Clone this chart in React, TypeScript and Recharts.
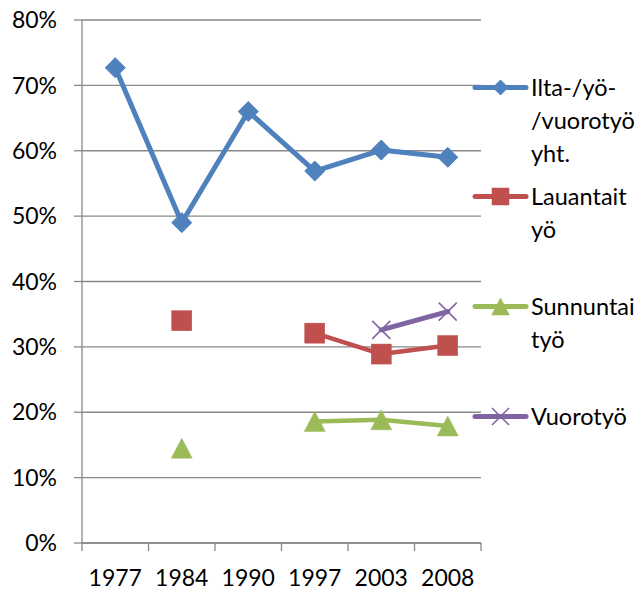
import React from 'react';
import { LineChart, Line, XAxis, YAxis, CartesianGrid, Legend } from 'recharts';

const categories = ['1977', '1984', '1990', '1997', '2003', '2008'];
const iltaYoVuorotyo = [72.7, 49.0, 66.0, 56.9, 60.1, 59.0];
const lauantaityo = [null, 34.0, null, 32.1, 28.9, 30.2];
const sunnuntaityo = [null, 14.5, null, 18.6, 18.85, 17.9];
const vuorotyo = [null, null, null, null, 32.6, 35.4];
const yTicks = [0, 10, 20, 30, 40, 50, 60, 70, 80];

const seriesNames = ['Ilta-/yö-/vuorotyö yht.', 'Lauantaityö', 'Sunnuntaityö', 'Vuorotyö'];
const legendLines = [['Ilta-/yö-', '/vuorotyö', 'yht.'], ['Lauantait', 'yö'], ['Sunnuntai', 'työ'], ['Vuorotyö']];
const colors = ['#4F81BD', '#C0504D', '#9BBB59', '#8064A2'];
const shapes = ['diamond', 'square', 'triangle', 'x'];

const data = categories.map((c, i) => ({
  year: c,
  s0: iltaYoVuorotyo[i],
  s1: lauantaityo[i],
  s2: sunnuntaityo[i],
  s3: vuorotyo[i],
}));

const GRID = '#898989';
const FONT = 'Lato, "Open Sans", sans-serif';
const TICK_FS = 23;
const LEGEND_FS = 23.5;

function Marker({ shape, cx, cy, color, size }: { shape: string; cx: number; cy: number; color: string; size: number }) {
  const h = size / 2;
  if (shape === 'diamond') {
    return <polygon points={`${cx},${cy - h} ${cx + h},${cy} ${cx},${cy + h} ${cx - h},${cy}`} fill={color} stroke={color} strokeWidth={1} />;
  }
  if (shape === 'square') {
    return <rect x={cx - h} y={cy - h} width={size} height={size} fill={color} stroke={color} strokeWidth={0.5} />;
  }
  if (shape === 'triangle') {
    return <polygon points={`${cx},${cy - h} ${cx + h * 1.05},${cy + h} ${cx - h * 1.05},${cy + h}`} fill={color} stroke={color} strokeWidth={0.5} />;
  }
  return (
    <g stroke={color} strokeWidth={1.6}>
      <line x1={cx - h} y1={cy - h} x2={cx + h} y2={cy + h} />
      <line x1={cx - h} y1={cy + h} x2={cx + h} y2={cy - h} />
    </g>
  );
}

function makeDot(idx: number) {
  return (props: any) => {
    const { cx, cy, value, index } = props;
    if (value == null || cy == null || isNaN(cy)) return <g key={`d${idx}-${index}`} />;
    return (
      <g key={`d${idx}-${index}`}>
        <Marker shape={shapes[idx]} cx={cx} cy={cy} color={colors[idx]} size={idx === 3 ? 18 : 20} />
      </g>
    );
  };
}

function CategoryTick(props: any) {
  const { x, y, payload, index, visibleTicksCount, width } = props;
  const half = payload && payload.offset ? payload.offset : width / (visibleTicksCount || categories.length) / 2;
  const isLast = index === (visibleTicksCount || categories.length) - 1;
  return (
    <g>
      <line x1={x - half} y1={y} x2={x - half} y2={y + 8} stroke={GRID} strokeWidth={1.3} />
      {isLast && <line x1={x + half} y1={y} x2={x + half} y2={y + 8} stroke={GRID} strokeWidth={1.3} />}
      <text x={x} y={y + 27} dy="0.71em" textAnchor="middle" fontFamily={FONT} fontSize={TICK_FS} fill="#000">
        {payload.value}
      </text>
    </g>
  );
}

const LINE_H = 33;
const ENTRY_H = 109.7;

function LegendContent() {
  return (
    <div style={{ position: 'relative', width: 171, fontFamily: FONT, fontSize: LEGEND_FS, color: '#000', textAlign: 'left' }}>
      {seriesNames.map((name, i) => (
        <div key={name} style={{ position: 'absolute', left: 0, top: i * ENTRY_H, width: 171, height: ENTRY_H }}>
          <svg width={58} height={LINE_H} style={{ position: 'absolute', left: 0, top: 0 }}>
            <line x1={3} y1={LINE_H / 2} x2={54} y2={LINE_H / 2} stroke={colors[i]} strokeWidth={5} strokeLinecap="round" />
            <Marker shape={shapes[i]} cx={28.5} cy={LINE_H / 2} color={colors[i]} size={i === 0 ? 15 : 17} />
          </svg>
          <div style={{ position: 'absolute', left: 59, top: 0, lineHeight: `${LINE_H}px`, whiteSpace: 'nowrap' }}>
            {legendLines[i].map((l, k) => (
              <div key={k}>{l}</div>
            ))}
          </div>
        </div>
      ))}
    </div>
  );
}

export default function App() {
  const lineProps = [5, 4.5, 4.5, 5];
  return (
    <div style={{ position: 'absolute', left: 0, top: 0, width: 643, height: 590, background: '#fff' }}>
      <LineChart width={643} height={590} data={data} margin={{ top: 20, right: 162, left: 0, bottom: 0 }}>
        <CartesianGrid xAxisId="cat" vertical={false} stroke={GRID} strokeWidth={1.3} />
        <XAxis
          xAxisId="cat"
          dataKey="year"
          scale="band"
          height={47}
          axisLine={{ stroke: GRID, strokeWidth: 1.3 }}
          tickLine={false}
          tickSize={0}
          tickMargin={0}
          interval={0}
          tick={<CategoryTick />}
        />
        <YAxis
          width={82}
          domain={[0, 80]}
          ticks={yTicks}
          interval={0}
          tickFormatter={(v: number) => `${v}%`}
          tickSize={8}
          tickMargin={17}
          axisLine={{ stroke: GRID, strokeWidth: 1.3 }}
          tickLine={{ stroke: GRID, strokeWidth: 1.3 }}
          tick={{ fontFamily: FONT, fontSize: TICK_FS, fill: '#000' }}
        />
        {seriesNames.map((name, i) => (
          <Line
            key={name}
            xAxisId="cat"
            name={name}
            dataKey={`s${i}`}
            stroke={colors[i]}
            strokeWidth={lineProps[i]}
            strokeLinecap="round"
            strokeLinejoin="round"
            connectNulls={false}
            dot={makeDot(i)}
            activeDot={false}
            isAnimationActive={false}
          />
        ))}
        <Legend
          layout="horizontal"
          verticalAlign="middle"
          align="center"
          content={() => <LegendContent />}
          wrapperStyle={{ left: 472, top: 70.5, width: 171, height: 0 }}
        />
      </LineChart>
    </div>
  );
}
